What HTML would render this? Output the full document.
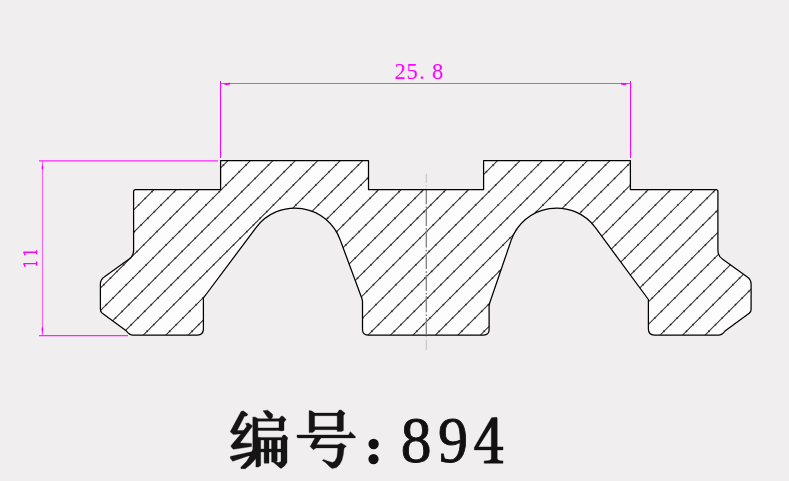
<!DOCTYPE html>
<html><head><meta charset="utf-8"><style>
html,body{margin:0;padding:0;background:#f1eef0;}
svg{display:block;}
</style></head><body>
<svg width="789" height="481" viewBox="0 0 789 481">
<defs><clipPath id="cp"><path d="M 220.6 160.7 H 368.5 V 189.6 H 483.6 V 160.7 H 630.4 V 189.6 H 715.9 Q 717.9 189.6 717.9 191.6 V 250.5 Q 717.9 256.5 723.0 259.5 L 747.0 276.8 Q 751.1 279.6 751.1 284 V 309 Q 751.1 311.8 749.5 313 L 725.0 331 Q 722.0 335.0 718.5 335.0 H 654.4 Q 648.4 335.0 648.4 329.0 V 299.5 L 595.44 227.63 A 48.2 48.2 0 0 0 511.03 240.63 L 489.6 303.3 L 489.1 305.5 V 329.5 Q 489.1 335.0 483.6 335.0 H 368.0 Q 362.5 335.0 362.5 329.5 V 301.3 L 362.0 298.8 L 340.25 240.01 A 48.2 48.2 0 0 0 256.24 227.38 L 203.4 298.0 V 329.0 Q 203.4 335.0 197.4 335.0 H 133 Q 129.5 335.0 126.5 331 L 102 313 Q 100.4 311.8 100.4 309 V 284 Q 100.4 279.6 104.5 276.8 L 128.5 259.5 Q 133.6 256.5 133.6 250.5 V 191.6 Q 133.6 189.6 135.6 189.6 H 220.6 V 160.7 Z"/></clipPath></defs>
<rect x="0" y="0" width="789" height="481" fill="#f1eef0"/>
<path d="M 220.6 160.7 H 368.5 V 189.6 H 483.6 V 160.7 H 630.4 V 189.6 H 715.9 Q 717.9 189.6 717.9 191.6 V 250.5 Q 717.9 256.5 723.0 259.5 L 747.0 276.8 Q 751.1 279.6 751.1 284 V 309 Q 751.1 311.8 749.5 313 L 725.0 331 Q 722.0 335.0 718.5 335.0 H 654.4 Q 648.4 335.0 648.4 329.0 V 299.5 L 595.44 227.63 A 48.2 48.2 0 0 0 511.03 240.63 L 489.6 303.3 L 489.1 305.5 V 329.5 Q 489.1 335.0 483.6 335.0 H 368.0 Q 362.5 335.0 362.5 329.5 V 301.3 L 362.0 298.8 L 340.25 240.01 A 48.2 48.2 0 0 0 256.24 227.38 L 203.4 298.0 V 329.0 Q 203.4 335.0 197.4 335.0 H 133 Q 129.5 335.0 126.5 331 L 102 313 Q 100.4 311.8 100.4 309 V 284 Q 100.4 279.6 104.5 276.8 L 128.5 259.5 Q 133.6 256.5 133.6 250.5 V 191.6 Q 133.6 189.6 135.6 189.6 H 220.6 V 160.7 Z" fill="#fdfdfd"/>
<g clip-path="url(#cp)"><path d="M -46.34 345 L 148.66 150 M -23.87 345 L 171.13 150 M -1.40 345 L 193.60 150 M 21.07 345 L 216.07 150 M 43.54 345 L 238.54 150 M 66.01 345 L 261.01 150 M 88.48 345 L 283.48 150 M 110.95 345 L 305.95 150 M 133.42 345 L 328.42 150 M 155.89 345 L 350.89 150 M 178.36 345 L 373.36 150 M 200.83 345 L 395.83 150 M 223.30 345 L 418.30 150 M 245.77 345 L 440.77 150 M 268.24 345 L 463.24 150 M 290.71 345 L 485.71 150 M 313.18 345 L 508.18 150 M 335.65 345 L 530.65 150 M 358.12 345 L 553.12 150 M 380.59 345 L 575.59 150 M 403.06 345 L 598.06 150 M 425.53 345 L 620.53 150 M 448.00 345 L 643.00 150 M 470.47 345 L 665.47 150 M 492.94 345 L 687.94 150 M 515.41 345 L 710.41 150 M 537.88 345 L 732.88 150 M 560.35 345 L 755.35 150 M 582.82 345 L 777.82 150 M 605.29 345 L 800.29 150 M 627.76 345 L 822.76 150 M 650.23 345 L 845.23 150 M 672.70 345 L 867.70 150 M 695.17 345 L 890.17 150 M 717.64 345 L 912.64 150 M 740.11 345 L 935.11 150 M 762.58 345 L 957.58 150 M 785.05 345 L 980.05 150 M 807.52 345 L 1002.52 150 M 829.99 345 L 1024.99 150 M 852.46 345 L 1047.46 150 M 874.93 345 L 1069.93 150" stroke="#333" stroke-width="1.05" fill="none"/>
<path d="M -46.34 345 L 148.66 150 M -23.87 345 L 171.13 150 M -1.40 345 L 193.60 150 M 21.07 345 L 216.07 150 M 43.54 345 L 238.54 150 M 66.01 345 L 261.01 150 M 88.48 345 L 283.48 150 M 110.95 345 L 305.95 150 M 133.42 345 L 328.42 150 M 155.89 345 L 350.89 150 M 178.36 345 L 373.36 150 M 200.83 345 L 395.83 150 M 223.30 345 L 418.30 150 M 245.77 345 L 440.77 150 M 268.24 345 L 463.24 150 M 290.71 345 L 485.71 150 M 313.18 345 L 508.18 150 M 335.65 345 L 530.65 150 M 358.12 345 L 553.12 150 M 380.59 345 L 575.59 150 M 403.06 345 L 598.06 150 M 425.53 345 L 620.53 150 M 448.00 345 L 643.00 150 M 470.47 345 L 665.47 150 M 492.94 345 L 687.94 150 M 515.41 345 L 710.41 150 M 537.88 345 L 732.88 150 M 560.35 345 L 755.35 150 M 582.82 345 L 777.82 150 M 605.29 345 L 800.29 150 M 627.76 345 L 822.76 150 M 650.23 345 L 845.23 150 M 672.70 345 L 867.70 150 M 695.17 345 L 890.17 150 M 717.64 345 L 912.64 150 M 740.11 345 L 935.11 150 M 762.58 345 L 957.58 150 M 785.05 345 L 980.05 150 M 807.52 345 L 1002.52 150 M 829.99 345 L 1024.99 150 M 852.46 345 L 1047.46 150 M 874.93 345 L 1069.93 150" stroke="#222" stroke-width="1.9" stroke-dasharray="1.3 8.1" fill="none" stroke-opacity="0.8"/></g>
<line x1="426.3" y1="173.7" x2="426.3" y2="350" stroke="#c4c4c4" stroke-width="1.1" stroke-dasharray="16 2.2 1.6 1.8" stroke-dashoffset="7"/>
<line x1="426.3" y1="173.7" x2="426.3" y2="350" stroke="#7a7a7a" stroke-width="1.1" stroke-dasharray="16 2.2 1.6 1.8" stroke-dashoffset="7" clip-path="url(#cp)"/>
<path d="M 220.6 160.7 H 368.5 V 189.6 H 483.6 V 160.7 H 630.4 V 189.6 H 715.9 Q 717.9 189.6 717.9 191.6 V 250.5 Q 717.9 256.5 723.0 259.5 L 747.0 276.8 Q 751.1 279.6 751.1 284 V 309 Q 751.1 311.8 749.5 313 L 725.0 331 Q 722.0 335.0 718.5 335.0 H 654.4 Q 648.4 335.0 648.4 329.0 V 299.5 L 595.44 227.63 A 48.2 48.2 0 0 0 511.03 240.63 L 489.6 303.3 L 489.1 305.5 V 329.5 Q 489.1 335.0 483.6 335.0 H 368.0 Q 362.5 335.0 362.5 329.5 V 301.3 L 362.0 298.8 L 340.25 240.01 A 48.2 48.2 0 0 0 256.24 227.38 L 203.4 298.0 V 329.0 Q 203.4 335.0 197.4 335.0 H 133 Q 129.5 335.0 126.5 331 L 102 313 Q 100.4 311.8 100.4 309 V 284 Q 100.4 279.6 104.5 276.8 L 128.5 259.5 Q 133.6 256.5 133.6 250.5 V 191.6 Q 133.6 189.6 135.6 189.6 H 220.6 V 160.7 Z" fill="none" stroke="#000" stroke-width="1.25" stroke-linejoin="round"/>
<g stroke="#ff00ff" stroke-width="1" fill="none">
<path d="M 220.5 81 V 158 M 630.5 81 V 158"/>
<path d="M 39 160.9 H 218 M 39 335.7 H 128" stroke-width="1.25" stroke-opacity="0.85"/>
<path d="M 220.5 83.5 H 630.5" stroke-opacity="0.75"/>
<path d="M 42.4 161 V 335" stroke-opacity="0.65"/>
</g>
<g fill="#ff00ff">
<path d="M 222.5 83.4 L 230 82.8 L 230 84.5 L 226.5 85.3 Z"/>
<path d="M 628.5 83.4 L 621 82.8 L 621 84.5 L 624.5 85.3 Z"/>
<path d="M 42.4 164 L 43.3 168 L 42.4 170 L 41.5 168 Z"/>
<path d="M 42.4 334 L 43.3 329 L 42.4 326.5 L 41.5 329 Z"/>
</g>
<g font-family="'Liberation Serif'" fill="#ff00ff" font-size="22.5">
<text x="394.4" y="79">2</text><text x="406.6" y="79">5</text><text x="419.2" y="79">.</text><text x="432.1" y="79">8</text>
</g>
<g stroke="#ff00ff" fill="none" stroke-linecap="butt">
<path d="M 23.5 252.2 H 37.2 M 36.6 250.2 V 254.2 M 23.6 252 L 25.2 255.2" stroke-width="1.45"/>
<path d="M 23.5 263.6 H 37.2 M 36.6 261.4 V 265.8 M 23.6 263.4 L 25.2 266.6" stroke-width="1.45"/>
</g>
<path d="M241.2 411.3 L243.6 411.0 L247.9 414.3 L246.8 416.0 L244.4 416.3 L237.2 430.4 L243.8 430.4 L243.8 433.6 L233.4 434.6 L230.2 431.8 L231.0 430.2ZM245.5 423.5 L248.4 422.9 L252.4 425.7 L252.0 426.8 L239.9 442.9 L251.5 443.4 L251.5 446.6 L233.3 449.3 L230.9 446.6 L231.3 445.3 L240.7 434.2 L246.8 426.2ZM230.2 456.5 L252.5 451.5 L252.5 454.5 L232.7 461.3 L230.5 458.6ZM263.0 410.7 L267.7 410.2 L272.6 414.3 L272.7 416.8 L271.2 418.8 L269.0 418.8 L267.0 416.6ZM252.8 417.0 L255.7 417.2 L257.9 418.7 L257.9 451.0 L255.6 459.0 L250.5 464.5 L245.3 468.7 L241.0 468.7 L240.8 467.2 L246.5 461.5 L250.8 454.5 L252.8 449.0ZM257.8 418.7 L280.0 418.7 L280.0 421.2 L257.8 421.2ZM279.0 419.0 L281.1 416.2 L283.0 416.2 L286.1 419.6 L284.0 422.3 L284.0 430.4 L281.5 431.0 L279.0 430.4ZM257.8 427.9 L281.0 427.9 L281.0 430.4 L257.8 430.4ZM257.7 437.4 L281.5 437.4 L283.2 435.1 L285.0 435.1 L287.8 437.8 L287.0 440.0 L257.7 440.0ZM255.9 437.4 L260.7 437.4 L260.7 465.5 L258.5 467.0 L255.9 467.0ZM264.1 440.0 L269.0 440.0 L269.0 463.2 L264.1 463.2ZM271.6 440.0 L277.2 440.0 L277.2 461.0 L274.5 462.6 L271.6 462.0ZM281.0 440.0 L287.0 439.0 L287.0 462.5 L284.5 466.0 L281.0 468.4 L279.5 467.5 L274.0 462.8 L275.0 461.5 L278.5 462.5 L281.0 461.5ZM260.7 449.0 L281.0 449.0 L281.0 452.0 L260.7 452.0ZM309.1 410.6 L311.8 411.0 L314.6 413.0 L314.6 431.0 L312.5 432.6 L309.1 432.6ZM314.2 413.1 L338.5 413.1 L338.5 415.7 L314.2 415.7ZM337.2 413.1 L339.3 410.0 L341.2 410.0 L345.1 413.3 L343.4 415.7 L343.4 430.5 L341.5 431.4 L337.2 431.4ZM314.6 426.8 L337.2 426.8 L337.2 429.7 L314.6 429.7ZM297.1 435.0 L348.6 435.0 L350.3 431.7 L355.3 436.4 L355.3 437.9 L297.6 437.9 L296.9 436.6ZM315.0 437.9 L320.9 437.9 L316.5 444.8 L315.9 447.9 L313.4 449.8 L310.1 446.4 L311.0 445.0ZM314.8 444.8 L341.0 444.8 L341.0 447.9 L314.8 447.9ZM338.0 444.8 L341.2 443.0 L346.4 446.2 L344.0 448.2 L343.2 455.0 L341.9 460.3 L339.6 464.6 L336.5 467.6 L332.2 468.6 L330.0 467.0 L325.5 462.6 L322.3 460.4 L323.6 459.5 L327.5 461.0 L332.5 462.6 L335.0 461.0 L337.0 457.0 L337.7 450.0 L337.7 447.9Z" fill="#151515" stroke="#151515" stroke-width="0.35" stroke-linejoin="round"/>
<g fill="#111">
<circle cx="373.6" cy="444.0" r="5.15"/><circle cx="373.5" cy="459.1" r="5.15"/>
</g>
<g font-family="'Liberation Serif'" font-size="66.2" fill="#111" stroke="#111" stroke-width="0.9">
<text transform="translate(403.2 0) scale(0.93 1) translate(-403.2 0)" x="400.7" y="462.2">8</text>
<text transform="translate(439.9 0) scale(0.91 1) translate(-439.9 0)" x="437.8" y="462.2">9</text>
</g>
<path fill="#111" fill-rule="evenodd" stroke="#111" stroke-width="0.4" d="M 491.6 417.7 L 496.6 417.3 L 497.2 418.2 L 497.2 446.9 L 503 446.9 L 503 449.9 L 497.2 449.9 L 497.2 458.6 Q 497.6 460.6 500 460.8 L 503 460.9 L 503 463.3 L 484.2 463.3 L 484.2 460.9 L 487.6 460.8 Q 491.1 460.6 491.3 458.6 L 491.3 449.9 L 474.3 449.9 L 474.3 447.6 Z M 491.3 426.5 L 491.3 446.9 L 478.3 446.9 Z"/>
</svg>
</body></html>
